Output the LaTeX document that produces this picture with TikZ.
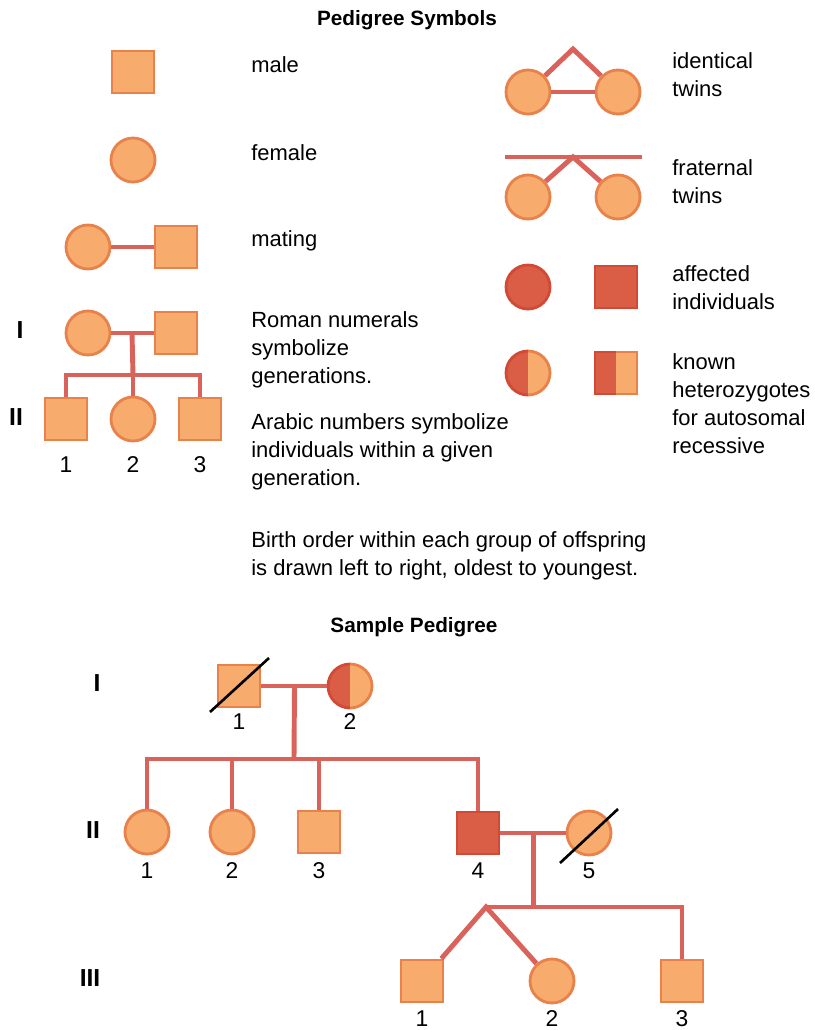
\documentclass[tikz,border=0pt]{standalone}
\usepackage{fontspec}
\setmainfont{Liberation Sans}
\usetikzlibrary{positioning,calc}
\definecolor{fillorange}{HTML}{F7AC6E}
\definecolor{edgeorange}{HTML}{E8814A}
\definecolor{fillred}{HTML}{DA5E45}
\definecolor{edgered}{HTML}{D24A36}
\definecolor{linkred}{HTML}{D9625A}
\tikzset{
  malebox/.style={draw=edgeorange, fill=fillorange, line width=1.6pt, minimum size=0.84cm, inner sep=0pt},
  femalebox/.style={circle, draw=edgeorange, fill=fillorange, line width=1.6pt, minimum size=0.88cm, inner sep=0pt},
  affmale/.style={malebox, draw=edgered, fill=fillred},
  afffemale/.style={femalebox, draw=edgered, fill=fillred},
  link/.style={draw=linkred, line width=2.8pt},
  deceased/.style={draw=black, line width=1.5pt},
  caption/.style={anchor=west, align=left, inner sep=0pt, font=\fontsize{12.5}{15.9}\selectfont},
  heading/.style={font=\bfseries\fontsize{11.8}{16}\selectfont},
  gen/.style={font=\bfseries\fontsize{14}{16}\selectfont},
  num/.style={font=\fontsize{13}{16}\selectfont},
}
\begin{document}
\begin{tikzpicture}[x=0.02cm,y=-0.02cm]
\useasboundingbox (0,0) rectangle (814,1030);

% legend
\node[heading] (symtitle) at (407,20) {Pedigree Symbols};

\node[malebox] (male) at (133,72) {};
\node[caption] (tmale) at (251,65) {male};
\node[femalebox] (female) at (133,160) {};
\node[caption] (tfemale) at (251,153) {female};
\node[femalebox] (mateF) at (88,247) {};
\node[malebox] (mateM) at (176,247) {};
\node[caption] (tmate) at (251,241) {mating};
\draw[link] (mateF) -- (mateM);

% generations example
\node[gen] (gI) at (20,330) {I};
\node[gen] (gII) at (16,417) {II};
\node[femalebox] (exF) at (88,333) {};
\node[malebox] (exM) at (176,333) {};
\node[malebox] (ex1) at (66,419) {};
\node[femalebox] (ex2) at (133,419) {};
\node[malebox] (ex3) at (200,419) {};
\node[num] (nex1) at (66,465) {1};
\node[num] (nex2) at (133,465) {2};
\node[num] (nex3) at (200,465) {3};
\coordinate (exdrop) at (133,375);
\draw[link] (exF) -- (exM);
\draw[link] ($(exF)!0.5!(exM)$) -- (exdrop);
\draw[link] (ex1.north) |- (exdrop) -| (ex3.north);
\draw[link] (ex2.north) -- (ex2.north |- exdrop);

\node[caption] (troman) at (251,350) {Roman numerals\\symbolize\\generations.};
\node[caption] (tarabic) at (251,452) {Arabic numbers symbolize\\individuals within a given\\generation.};
\node[caption] (tbirth) at (251,556) {Birth order within each group of offspring\\is drawn left to right, oldest to youngest.};

% twins
\node[femalebox] (id1) at (528,92) {};
\node[femalebox] (id2) at (618,92) {};
\coordinate (idapex) at (573,49);
\draw[link] (id1) -- (id2);
\draw[link] (id1) -- (idapex) -- (id2);
\node[caption] (tid) at (672,75) {identical\\twins};

\node[femalebox] (fr1) at (528,197) {};
\node[femalebox] (fr2) at (618,197) {};
\coordinate (frL) at (505,157);
\coordinate (frR) at (642,157);
\coordinate (frapex) at (573,157);
\draw[link] (frL) -- (frR);
\draw[link] (fr1) -- (frapex) -- (fr2);
\node[caption] (tfr) at (672,182) {fraternal\\twins};

% affected and carriers
\node[afffemale] (affF) at (528,287) {};
\node[affmale] (affM) at (616,287) {};
\node[caption] (taff) at (672,288) {affected\\individuals};

\node[femalebox, draw=none, path picture={\fill[fillred] (path picture bounding box.south west) rectangle (path picture bounding box.north);}] (hetF) at (528,373) {};
\draw[edgered, line width=1.6pt] ([yshift=0.44cm]hetF.center) arc[start angle=90, end angle=270, radius=0.44cm];
\draw[edgeorange, line width=1.6pt] ([yshift=0.44cm]hetF.center) arc[start angle=90, end angle=-90, radius=0.44cm];
\node[malebox, draw=none, path picture={\fill[fillred] (path picture bounding box.south west) rectangle (path picture bounding box.north);}] (hetM) at (616,373) {};
\draw[edgered, line width=1.6pt] ([yshift=0.42cm]hetM.center) -- ++(-0.42cm,0) -- ++(0,-0.84cm) -- ++(0.42cm,0);
\draw[edgeorange, line width=1.6pt] ([yshift=0.42cm]hetM.center) -- ++(0.42cm,0) -- ++(0,-0.84cm) -- ++(-0.42cm,0);
\node[caption] (thet) at (672,404) {known\\heterozygotes\\for autosomal\\recessive};

% sample pedigree
\node[heading] (samtitle) at (414,627) {Sample Pedigree};
\node[gen] (sI) at (97,683) {I};
\node[gen] (sII) at (93,830) {II};
\node[gen] (sIII) at (90,978) {III};

\node[malebox] (I1) at (239,686) {};
\node[femalebox, draw=none, path picture={\fill[fillred] (path picture bounding box.south west) rectangle (path picture bounding box.north);}] (I2) at (350,686) {};
\draw[edgered, line width=1.6pt] ([yshift=0.44cm]I2.center) arc[start angle=90, end angle=270, radius=0.44cm];
\draw[edgeorange, line width=1.6pt] ([yshift=0.44cm]I2.center) arc[start angle=90, end angle=-90, radius=0.44cm];
\draw[deceased] ([shift={(-29,26)}]I1.center) -- ([shift={(30,-28)}]I1.center);
\node[num] (nI1) at (239,722) {1};
\node[num] (nI2) at (350,722) {2};

\node[femalebox] (II1) at (147,832) {};
\node[femalebox] (II2) at (232,832) {};
\node[malebox] (II3) at (319,832) {};
\node[affmale] (II4) at (478,833) {};
\node[femalebox] (II5) at (589,833) {};
\draw[deceased] ([shift={(-29,30)}]II5.center) -- ([shift={(29,-24)}]II5.center);
\node[num] (nII1) at (147,871) {1};
\node[num] (nII2) at (232,871) {2};
\node[num] (nII3) at (319,871) {3};
\node[num] (nII4) at (478,871) {4};
\node[num] (nII5) at (589,871) {5};

\node[malebox] (III1) at (422,981) {};
\node[femalebox] (III2) at (552,981) {};
\node[malebox] (III3) at (682,981) {};
\node[num] (nIII1) at (422,1019) {1};
\node[num] (nIII2) at (552,1019) {2};
\node[num] (nIII3) at (682,1019) {3};

\coordinate (dropI) at (294,759);
\coordinate (twinIII) at (486,907);
\draw[link] (I1) -- (I2);
\draw[link] ($(I1)!0.5!(I2)$) -- (dropI);
\draw[link] (II1.north) |- (dropI) -| (II4.north);
\draw[link] (II2.north) -- (II2.north |- dropI);
\draw[link] (II3.north) -- (II3.north |- dropI);
\draw[link] (II4) -- (II5);
\draw[link] ($(II4)!0.5!(II5)$) coordinate (mateII) -- (mateII |- twinIII);
\draw[link] (twinIII) -| (III3.north);
\draw[link] (III1) -- (twinIII) -- (III2);
\end{tikzpicture}
\end{document}
